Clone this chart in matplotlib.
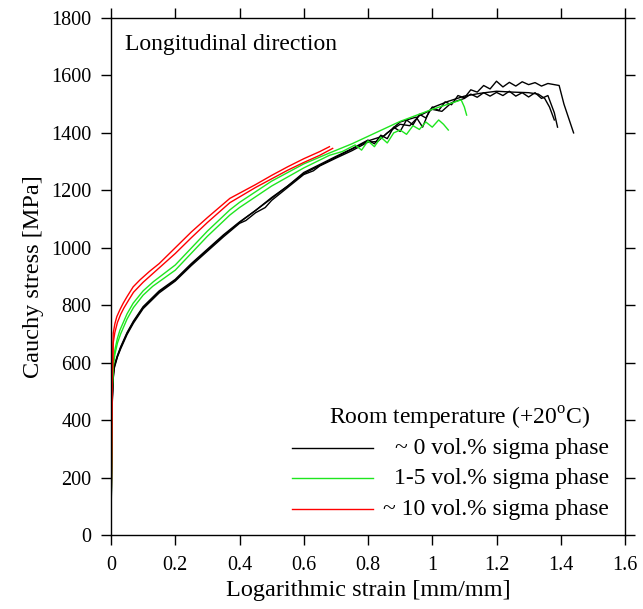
import matplotlib
matplotlib.use("Agg")
import matplotlib.pyplot as plt

plt.rcParams['font.family'] = ['Liberation Serif', 'DejaVu Serif']
plt.rcParams['mathtext.fontset'] = 'custom'
plt.rcParams['mathtext.rm'] = 'Liberation Serif'

# ---------------- data ----------------
black_a_strain = [0, 0.002, 0.004, 0.007, 0.01, 0.02, 0.03, 0.05, 0.07, 0.1, 0.15, 0.2, 0.25, 0.3,
                  0.35, 0.4, 0.45, 0.5, 0.55, 0.6, 0.65, 0.7, 0.75, 0.8, 0.82, 0.84, 0.86, 0.88,
                  0.9, 0.92, 0.94, 0.96, 0.98, 1.0, 1.02, 1.04, 1.06, 1.08, 1.1, 1.12, 1.14, 1.16,
                  1.18, 1.2, 1.22, 1.24, 1.26, 1.28, 1.3, 1.32, 1.34, 1.36, 1.38, 1.395, 1.41,
                  1.425, 1.44]
black_a_stress = [20, 250, 480, 560, 590, 625, 655, 705, 745, 795, 850, 890, 945, 995,
                  1045, 1090, 1130, 1175, 1215, 1262, 1290, 1318, 1345, 1375, 1362, 1392, 1380, 1420,
                  1405, 1445, 1428, 1465, 1452, 1490, 1478, 1508, 1498, 1530, 1522, 1550, 1542, 1565,
                  1553, 1580, 1560, 1576, 1563, 1578, 1568, 1575, 1563, 1572, 1568, 1565, 1500,
                  1450, 1400]

black_b_strain = [0, 0.002, 0.004, 0.007, 0.01, 0.02, 0.03, 0.05, 0.07, 0.1, 0.15, 0.2, 0.25, 0.3,
                  0.35, 0.4, 0.42, 0.45, 0.48, 0.5, 0.55, 0.6, 0.63, 0.65, 0.7, 0.75, 0.8, 0.83,
                  0.86, 0.9, 0.93, 0.96, 1.0, 1.03, 1.06, 1.1, 1.12, 1.14, 1.16, 1.18, 1.2, 1.22,
                  1.24, 1.26, 1.28, 1.3, 1.32, 1.34, 1.36, 1.37, 1.38, 1.39]
black_b_stress = [25, 260, 470, 545, 580, 620, 648, 698, 738, 788, 843, 884, 938, 988,
                  1038, 1085, 1095, 1122, 1140, 1165, 1210, 1255, 1268, 1285, 1312, 1338, 1368, 1370,
                  1400, 1430, 1425, 1460, 1482, 1475, 1505, 1520, 1535, 1524, 1540, 1528, 1541, 1530,
                  1545, 1528, 1540, 1525, 1540, 1520, 1530, 1500, 1470, 1420]

black_c_strain = [0, 0.002, 0.004, 0.007, 0.01, 0.02, 0.03, 0.05, 0.07, 0.1, 0.15, 0.2, 0.25, 0.3,
                  0.35, 0.4, 0.5, 0.6, 0.7, 0.8, 0.85, 0.9, 0.95, 0.97, 0.99, 1.0, 1.05, 1.1,
                  1.15, 1.2, 1.25, 1.3, 1.33, 1.35, 1.365, 1.38]
black_c_stress = [15, 240, 460, 550, 585, 622, 652, 702, 742, 792, 847, 887, 942, 992,
                  1042, 1088, 1172, 1258, 1315, 1372, 1390, 1438, 1455, 1420, 1475, 1488, 1510, 1528,
                  1538, 1545, 1542, 1540, 1535, 1520, 1490, 1445]

green_a_strain = [0, 0.002, 0.004, 0.007, 0.012, 0.02, 0.028, 0.05, 0.069, 0.1, 0.132, 0.2, 0.3,
                  0.37, 0.4, 0.5, 0.6, 0.68, 0.75, 0.8, 0.9, 1.0, 1.05, 1.09, 1.1, 1.107]
green_a_stress = [20, 280, 520, 600, 644, 685, 714, 770, 807, 850, 882, 940, 1058,
                  1132, 1158, 1232, 1292, 1330, 1362, 1388, 1440, 1482, 1500, 1515, 1490, 1462]

green_b_strain = [0, 0.002, 0.004, 0.007, 0.012, 0.02, 0.03, 0.05, 0.07, 0.1, 0.13, 0.2, 0.3,
                  0.37, 0.4, 0.5, 0.6, 0.68, 0.72, 0.76, 0.78, 0.8, 0.82, 0.84, 0.86, 0.88, 0.9,
                  0.92, 0.94, 0.96, 0.98, 1.0, 1.02, 1.035, 1.05]
green_b_stress = [25, 270, 500, 585, 628, 668, 700, 752, 792, 835, 866, 922, 1040,
                  1114, 1140, 1215, 1278, 1322, 1335, 1358, 1340, 1372, 1352, 1385, 1365, 1400, 1410,
                  1395, 1425, 1412, 1438, 1420, 1445, 1430, 1410]

red_a_strain = [0, 0.002, 0.004, 0.007, 0.012, 0.018, 0.028, 0.038, 0.05, 0.069, 0.09, 0.12,
                0.15, 0.2, 0.25, 0.3, 0.37, 0.45, 0.5, 0.55, 0.6, 0.65, 0.68]
red_a_stress = [30, 300, 560, 703, 735, 760, 785, 807, 830, 864, 888, 918,
                945, 1000, 1055, 1105, 1172, 1220, 1252, 1282, 1310, 1335, 1352]

red_b_strain = [0, 0.002, 0.004, 0.007, 0.012, 0.02, 0.03, 0.04, 0.055, 0.07, 0.1, 0.13,
                0.16, 0.2, 0.25, 0.3, 0.37, 0.45, 0.5, 0.55, 0.6, 0.65, 0.69]
red_b_stress = [25, 290, 540, 670, 705, 740, 768, 790, 818, 845, 880, 910,
                940, 980, 1035, 1088, 1157, 1210, 1240, 1270, 1297, 1322, 1346]

x_ticks = [0, 0.2, 0.4, 0.6, 0.8, 1.0, 1.2, 1.4, 1.6]
x_tick_labels = ["0", "0.2", "0.4", "0.6", "0.8", "1", "1.2", "1.4", "1.6"]
y_ticks = [0, 200, 400, 600, 800, 1000, 1200, 1400, 1600, 1800]

legend_title = "Room temperature (+20$^{\\rm o}$C)"
legend_labels = ["~ 0 vol.% sigma phase", "1-5 vol.% sigma phase", "~ 10 vol.% sigma phase"]
BLACK, GREEN, RED = "#000000", "#1ee61e", "#ff0000"

# ---------------- figure ----------------
fig = plt.figure(figsize=(6.43, 6.09), dpi=100)
ax = fig.add_axes([111/643, 1 - 535/609, 514/643, 517/609])

lw = 1.0
for s, v in [(black_a_strain, black_a_stress), (black_b_strain, black_b_stress),
             (black_c_strain, black_c_stress)]:
    ax.plot(s, v, color=BLACK, lw=lw)
for s, v in [(green_a_strain, green_a_stress), (green_b_strain, green_b_stress)]:
    ax.plot(s, v, color=GREEN, lw=lw)
for s, v in [(red_a_strain, red_a_stress), (red_b_strain, red_b_stress)]:
    ax.plot(s, v, color=RED, lw=lw)

ax.set_xlim(0, 1.6)
ax.set_ylim(0, 1800)
ax.set_xticks(x_ticks)
ax.set_xticklabels(x_tick_labels)
ax.set_yticks(y_ticks)
ax.tick_params(which='major', direction='out', length=7, width=1, labelsize=14.5,
               top=True, right=True)
ax.tick_params(axis='x', pad=8)
ax.tick_params(axis='y', pad=7)
for sp in ax.spines.values():
    sp.set_linewidth(1.0)

ax.set_xlabel("Logarithmic strain [mm/mm]", fontsize=17.5, labelpad=4)
ax.set_ylabel("Cauchy stress [MPa]", fontsize=17.5, labelpad=5)

ax.text(0.027, 0.948, "Longitudinal direction", transform=ax.transAxes, fontsize=17,
        ha='left', va='center')

# manual legend (right-aligned text, lines on the left)
ax.text(0.679, 0.226, legend_title, transform=ax.transAxes, fontsize=17, ha='center', va='center')
row_y = [0.168, 0.110, 0.050]
for y, c, lab in zip(row_y, [BLACK, GREEN, RED], legend_labels):
    ax.plot([0.352, 0.510], [y, y], transform=ax.transAxes, color=c, lw=1.0)
    ax.text(0.969, y, lab, transform=ax.transAxes, fontsize=17, ha='right', va='center')

fig.savefig("out.png", dpi=100)
